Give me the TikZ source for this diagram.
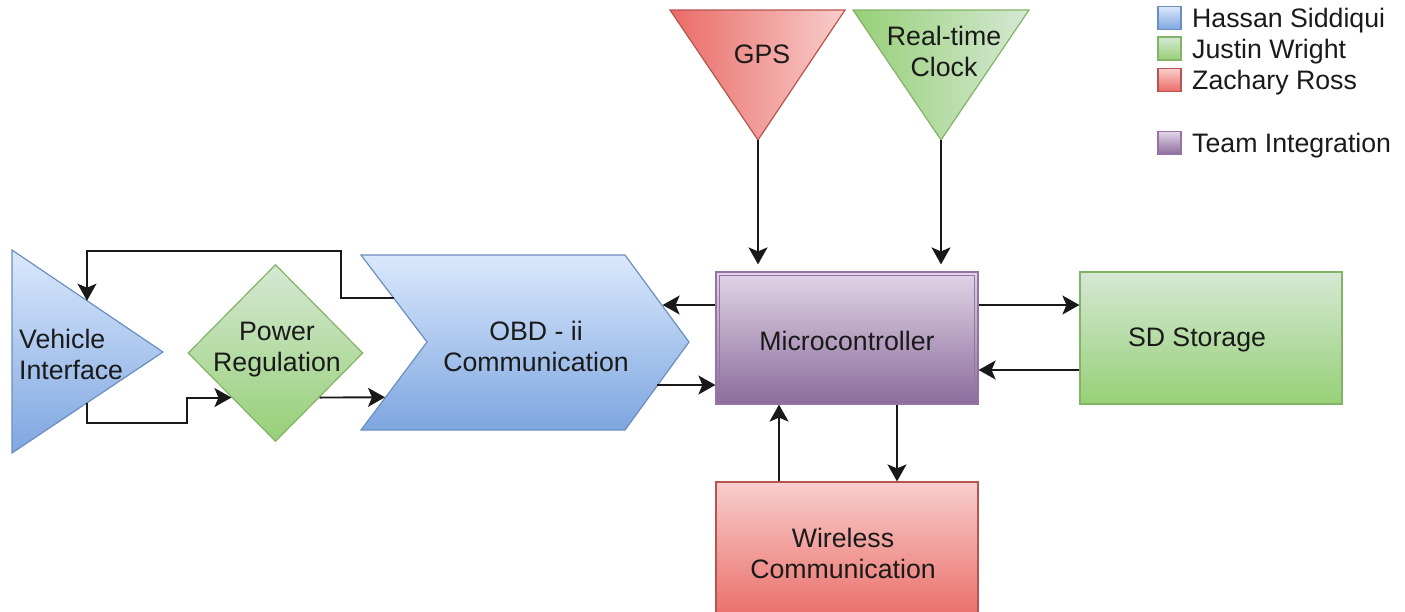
\documentclass[tikz,border=0pt]{standalone}
\usepackage{fontspec}
\setmainfont{Liberation Sans}
\usetikzlibrary{arrows.meta,shapes.geometric}
\definecolor{bluelt}{HTML}{DAE8FC}
\definecolor{bluedk}{HTML}{7EA6E0}
\definecolor{bluestroke}{HTML}{6C8EBF}
\definecolor{greenlt}{HTML}{D5E8D4}
\definecolor{greendk}{HTML}{97D077}
\definecolor{greenstroke}{HTML}{82B366}
\definecolor{redlt}{HTML}{F8CECC}
\definecolor{reddk}{HTML}{EA6B66}
\definecolor{redstroke}{HTML}{B85450}
\definecolor{purplelt}{HTML}{E1D5E7}
\definecolor{purpledk}{HTML}{8C6C9C}
\definecolor{purplestroke}{HTML}{9673A6}
\definecolor{txtcol}{HTML}{1A1A1A}
\begin{document}
\begin{tikzpicture}[x=1pt,y=-1pt,
  conn/.style={draw=black!90, line width=1.9pt, -{Stealth[length=17pt,width=19pt,inset=4pt]}},
  txt/.style={font=\fontsize{26.7}{31}\selectfont, align=center, text=txtcol, inner sep=0pt},
  shp/.style={line width=1.2pt},
  bluev/.style={shp, draw=bluestroke, top color=bluelt, bottom color=bluedk},
  greenv/.style={shp, draw=greenstroke, top color=greenlt, bottom color=greendk},
  redv/.style={shp, draw=redstroke, top color=redlt, bottom color=reddk},
  purplev/.style={shp, draw=purplestroke, top color=purplelt, bottom color=purpledk},
  box/.style={rectangle, minimum width=262pt, minimum height=132pt, inner sep=0pt},
  legsq/.style={rectangle, minimum width=23pt, minimum height=23pt, inner sep=0pt},
  legtxt/.style={txt, anchor=west}
]
\useasboundingbox (0,0) rectangle (1405,611);

% Vehicle Interface (triangle pointing right)
\path[bluev] (12,250) -- (163,352) -- (12,453) -- cycle;
\node[txt, align=left, anchor=west] (vi) at (19,354) {Vehicle\\Interface};
\coordinate (viA) at (87,300.7);
\coordinate (viB) at (87,402.8);

% Power Regulation (diamond)
\node[diamond, greenv, minimum width=175pt, minimum height=177pt, inner sep=0pt] (pr) at (275.5,353) {};
\node[txt] (prt) at (277,350) {Power\\Regulation};

% OBD - ii Communication (chevron)
\path[bluev] (361,255) -- (625,255) -- (689,342) -- (625,430) -- (361,430) -- (427,342) -- cycle;
\node[txt] (obd) at (536,346) {OBD - ii\\Communication};
\coordinate (obdA) at (394,298);
\coordinate (obdC) at (385,397.25);
\coordinate (obdR1) at (662.6,305);
\coordinate (obdR2) at (657,385);

% Microcontroller (double border)
\node[box, purplev] (mc) at (847,338) {};
\draw[purplestroke, line width=1.2pt] ([shift={(4,4)}]mc.north west) rectangle ([shift={(-4,-4)}]mc.south east);
\node[txt] (mct) at (847,341) {Microcontroller};

% SD Storage
\node[box, greenv] (sd) at (1211,338) {};
\node[txt] (sdt) at (1197,340) {SD Storage};

% Wireless Communication
\node[box, redv, minimum height=140pt] (wl) at (847,552) {};
\node[txt] (wlt) at (843,553) {Wireless\\Communication};

% GPS (triangle pointing down)
\path[shp, draw=redstroke, left color=reddk, right color=redlt] (670,10) -- (845,10) -- (758,140) coordinate (gpsA) -- cycle;
\node[txt] (gps) at (762,54) {GPS};

% Real-time Clock
\path[shp, draw=greenstroke, left color=greendk, right color=greenlt] (853,10) -- (1029,10) -- (941,140) coordinate (rtcA) -- cycle;
\node[txt] (rtc) at (944,51) {Real-time\\Clock};

% Connectors
\draw[conn, shorten >=7pt] (gpsA) -- (gpsA |- mc.north);
\draw[conn, shorten >=7pt] (rtcA) -- (rtcA |- mc.north);
\draw[conn] (mc.west |- obdR1) -- (obdR1);
\draw[conn] (obdR2) -- (obdR2 -| mc.west);
\draw[conn] (pr.south east) -- (obdC);
\draw[conn] (viB) |- (187,423) |- (pr.south west);
\draw[conn] (obdA) -- (341,298) -- (341,251) -| (viA);
\draw[conn] ([yshift=33pt]mc.east) -- ([yshift=33pt]sd.west);
\draw[conn] ([yshift=-32pt]sd.west) -- ([yshift=-32pt]mc.east);
\draw[conn] ([xshift=50pt]mc.south) -- ([xshift=50pt]wl.north);
\draw[conn] ([xshift=-68pt]wl.north) -- ([xshift=-68pt]mc.south);

% Legend
\node[legsq, bluev] (l1) at (1169.5,18) {};
\node[legsq, greenv] (l2) at (1169.5,48.5) {};
\node[legsq, redv] (l3) at (1169.5,80) {};
\node[legsq, purplev] (l4) at (1169.5,143) {};
\node[legtxt] (l1t) at (1192,21) {Hassan Siddiqui};
\node[legtxt] (l2t) at (1192,52) {Justin Wright};
\node[legtxt] (l3t) at (1192,83) {Zachary Ross};
\node[legtxt] (l4t) at (1192,146) {Team Integration};
\end{tikzpicture}
\end{document}
